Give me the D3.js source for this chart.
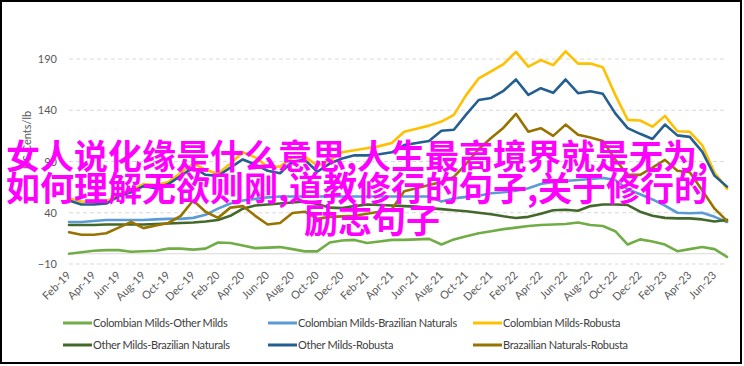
<!DOCTYPE html>
<html><head><meta charset="utf-8">
<script src="https://cdn.jsdelivr.net/npm/d3@7"></script>
<style>
body{margin:0;background:#fff;}
svg{display:block;}
</style></head>
<body>
<svg id="c" width="744" height="366"></svg>
<script>
const months = ["Feb-19","Mar-19","Apr-19","May-19","Jun-19","Jul-19","Aug-19","Sep-19","Oct-19","Nov-19","Dec-19",
"Jan-20","Feb-20","Mar-20","Apr-20","May-20","Jun-20","Jul-20","Aug-20","Sep-20","Oct-20","Nov-20","Dec-20",
"Jan-21","Feb-21","Mar-21","Apr-21","May-21","Jun-21","Jul-21","Aug-21","Sep-21","Oct-21","Nov-21","Dec-21",
"Jan-22","Feb-22","Mar-22","Apr-22","May-22","Jun-22","Jul-22","Aug-22","Sep-22","Oct-22","Nov-22","Dec-22",
"Jan-23","Feb-23","Mar-23","Apr-23","May-23","Jun-23","Jul-23"];

const yTicks = [-10, 40, 90, 140, 190];

const colMildsOtherMilds = [0,1.5,3,3.5,3.5,2,2.5,3,5,5,4,5,11,10.5,8,5.5,6,6.5,4.5,2.3,2.3,11,13,13.5,10.5,12,13.5,13.5,14,14.5,9,14,17,20,22,24,25.5,27,28,28.5,29,30.5,28,27,22,9,14,12,9,2.5,4.5,6.5,4.5,-3];
const colMildsBrazNat = [31,31,32,33,33,33,33,33.5,34,34,35,38,44,49,52,53.5,55,55.8,55.8,55.8,55.8,55.8,55.8,55.8,55.8,55.8,55.8,55.8,55.8,55.8,51,54,55.5,56.5,59,60,61.5,64,68,70,71,72,73,74,72,63,58,53,47,40,39.5,40,36,31];
const colMildsRobusta = [54,51,50,51,58,62,68,67,70,79,88,82,78,88,99,94,85,85,94,94.8,86,91,99,101,103,105,108,119,122,125,129,135.5,155,171,178,185,197,182.6,189,184,197.5,185.5,185.5,182,155,130.6,130,124,134.5,119.5,119,106,79,63.5];
const otherMildsBrazNat = [28,28,28,28.5,28.5,28.5,28.5,29,29.5,30,30.5,31.5,33,37,44,47,48,49,50,51,48.5,45,44.5,46.5,48,47.5,47,46.5,46,44.5,43.5,42.5,41.5,40,38.5,36.5,34.8,36,39,42.5,43,42,46.5,48,48,47.5,41,37,35,34.5,34.5,33.5,31.5,33];
const otherMildsRobusta = [52,48,48,49,56,60,66,64,68,76,84,77,76,84,92,87,81,78.6,90,91.6,80,88,93,96,96,97,99,106,108,110,120,121,136,150,152,159,170,155,161.5,157,170,156.6,158.5,156,137,122.5,117,112,126,115.5,114,99.7,76,65.5];
const brazNatRobusta = [21,18.5,18.5,20,25.5,31,25,27.5,30,37,52,41,35,45,46.5,37,28.5,30,39.7,41,34,36,36.5,37,39,41,43.5,61,64,67,70,75,88,102,113,123,136.5,119,122.5,115,126,116,113.5,110,92,77,77,84,91.6,81,79.5,62,44,32];

const seriesNames = ["Colombian Milds-Other Milds","Colombian Milds-Brazilian Naturals","Colombian Milds-Robusta",
"Other Milds-Brazilian Naturals","Other Milds-Robusta","Brazailian Naturals-Robusta"];
const seriesValues = [colMildsOtherMilds, colMildsBrazNat, colMildsRobusta, otherMildsBrazNat, otherMildsRobusta, brazNatRobusta];
const seriesColors = ["#70AD47","#5B9BD5","#FFC000","#43682B","#255E91","#997300"];

const overlayLines = ["女人说化缘是什么意思,人生最高境界就是无为,","如何理解无欲则刚,道教修行的句子,关于修行的","励志句子"];

const svg = d3.select("#c");
const font = "Lato, 'Open Sans', sans-serif";

const x = d3.scalePoint().domain(months).range([69, 727]);
const y = d3.scaleLinear().domain([-10, 190]).range([264, 59]);

// gridlines
svg.append("g").selectAll("line").data(yTicks).join("line")
  .attr("x1", 69).attr("x2", 727)
  .attr("y1", d => y(d)).attr("y2", d => y(d))
  .attr("stroke", "#D9D9D9").attr("stroke-width", 1)
  .attr("stroke-dasharray", "4,3");
// zero line
svg.append("line").attr("x1", 69).attr("x2", 727)
  .attr("y1", y(0)).attr("y2", y(0))
  .attr("stroke", "#D9D9D9").attr("stroke-width", 1.2);

// y axis labels
const yAxis = d3.axisLeft(y).tickValues(yTicks).tickSize(0).tickPadding(12);
const ya = svg.append("g").attr("transform", "translate(69,0)").call(yAxis);
ya.select(".domain").remove();
ya.selectAll("text").attr("font-family", font).attr("font-size", 11).attr("fill", "#595959");

// y title
svg.append("text").attr("transform", "translate(31,140) rotate(-90)")
  .attr("text-anchor", "middle").attr("font-family", font).attr("font-size", 11)
  .attr("fill", "#595959").text("US Cents/lb");

// x axis labels
const xAxis = d3.axisBottom(x).tickValues(months.filter((m, i) => i % 2 === 0)).tickSize(0).tickPadding(0);
const xa = svg.append("g").attr("transform", "translate(0,264)").call(xAxis);
xa.select(".domain").remove();
xa.selectAll("text").attr("font-family", font).attr("font-size", 11).attr("fill", "#595959")
  .attr("text-anchor", "end").attr("dy", 0)
  .attr("transform", "translate(2,12) rotate(-45)");

// lines
const line = d3.line().x((d, i) => x(months[i])).y(d => y(d));
svg.append("g").selectAll("path").data(seriesValues).join("path")
  .attr("d", d => line(d)).attr("fill", "none")
  .attr("stroke", (d, i) => seriesColors[i]).attr("stroke-width", 2.6)
  .attr("stroke-linejoin", "round").attr("stroke-linecap", "round");

// legend
const legX = [63, 268, 473], legY = [323, 345];
const leg = svg.append("g").selectAll("g").data(seriesNames).join("g")
  .attr("transform", (d, i) => `translate(${legX[i % 3]},${legY[Math.floor(i / 3)]})`);
leg.append("line").attr("x1", 0).attr("x2", 29).attr("y1", 0).attr("y2", 0)
  .attr("stroke", (d, i) => seriesColors[i]).attr("stroke-width", 3);
leg.append("text").attr("x", 30).attr("y", 0).attr("dy", "0.35em")
  .attr("font-family", font).attr("font-size", 11).attr("letter-spacing", "-0.3px")
  .attr("fill", "#404040").text(d => d);

// overlay text
svg.append("g").selectAll("text").data(overlayLines).join("text")
  .attr("x", (d, i) => i < 2 ? 357 : 372).attr("y", (d, i) => 169 + i * 32)
  .attr("text-anchor", "middle")
  .attr("font-family", "'Noto Sans CJK SC', sans-serif").attr("font-weight", "bold")
  .attr("font-size", 34).attr("fill", "#FF00FF").text(d => d);

// border
svg.append("rect").attr("x", 1).attr("y", 1).attr("width", 740).attr("height", 362)
  .attr("fill", "none").attr("stroke", "#000").attr("stroke-width", 2);
</script>
</body></html>
